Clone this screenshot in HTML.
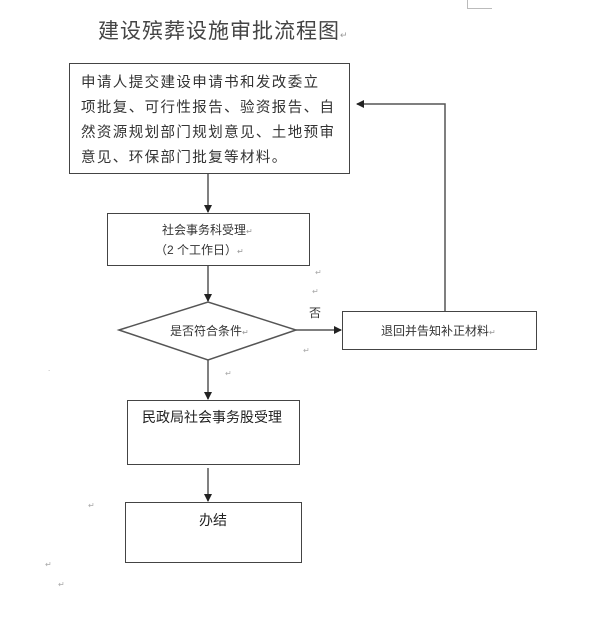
<!DOCTYPE html>
<html><head><meta charset="utf-8"><style>
body{margin:0;width:600px;height:617px;background:#fff;position:relative;overflow:hidden;font-family:"Liberation Sans","Noto Sans CJK SC",sans-serif;color:#222}
.b{position:absolute;border:1.5px solid #444;box-sizing:border-box;background:#fff}
.t{position:absolute;white-space:nowrap}
</style></head><body>
<div class="t" style="left:98px;top:15px;font-size:21px;color:#444;letter-spacing:1px">建设殡葬设施审批流程图<span style="font-size:9px;color:#999">↵</span></div>
<div class="t" style="left:467px;top:0;width:24px;height:8px;border-left:1px solid #bbb;border-bottom:1px solid #bbb"></div>
<div class="b" style="left:69px;top:63px;width:281px;height:111px"></div>
<div class="t" style="left:81px;top:71px;font-size:14.5px;line-height:25px;letter-spacing:1.4px;color:#333">申请人提交建设申请书和发改委立<br>项批复、可行性报告、验资报告、自<br>然资源规划部门规划意见、土地预审<br>意见、环保部门批复等材料。</div>
<div class="b" style="left:107px;top:213px;width:203px;height:53px"></div>
<div class="t" style="left:162px;top:221px;font-size:12px;color:#333">社会事务科受理<span style="font-size:8px;color:#999">↵</span></div>
<div class="t" style="left:155px;top:241px;font-size:12px;color:#333">（2 个工作日）<span style="font-size:8px;color:#999">↵</span></div>
<div class="b" style="left:342px;top:311px;width:195px;height:39px"></div>
<div class="t" style="left:381px;top:322px;font-size:12px;color:#333">退回并告知补正材料<span style="font-size:8px;color:#999">↵</span></div>
<div class="t" style="left:309px;top:304px;font-size:12px;color:#333">否</div>
<div class="b" style="left:127px;top:400px;width:173px;height:65px"></div>
<div class="t" style="left:142px;top:407px;font-size:14px;color:#222">民政局社会事务股受理</div>
<div class="b" style="left:125px;top:502px;width:177px;height:61px"></div>
<div class="t" style="left:199px;top:510px;font-size:14px;color:#222">办结</div>
<svg width="600" height="617" style="position:absolute;left:0;top:0" xmlns="http://www.w3.org/2000/svg">
<defs><marker id="a" markerWidth="8" markerHeight="8" refX="7" refY="4" orient="auto" markerUnits="userSpaceOnUse"><path d="M0,0 L8,4 L0,8 z" fill="#222"/></marker></defs>
<g stroke="#555" stroke-width="1.5" fill="none">
<polygon points="119,330 208,302 296,330 208,360"/>
<line x1="208" y1="174" x2="208" y2="212" marker-end="url(#a)"/>
<line x1="208" y1="266" x2="208" y2="301" marker-end="url(#a)"/>
<line x1="296" y1="330" x2="341" y2="330" marker-end="url(#a)"/>
<line x1="208" y1="360" x2="208" y2="399" marker-end="url(#a)"/>
<line x1="208" y1="468" x2="208" y2="501" marker-end="url(#a)"/>
<polyline points="445,311 445,104 357,104" marker-end="url(#a)"/>
</g>
<g fill="#aaa" font-size="8"><text x="315" y="275">↵</text><text x="312" y="294">↵</text><text x="303" y="353">↵</text><text x="225" y="376">↵</text><text x="88" y="508">↵</text><text x="45" y="567">↵</text><text x="58" y="587">↵</text><text x="48" y="371">.</text></g>
</svg>
<div class="t" style="left:170px;top:322px;font-size:12px;color:#333">是否符合条件<span style="font-size:8px;color:#999">↵</span></div>
</body></html>
